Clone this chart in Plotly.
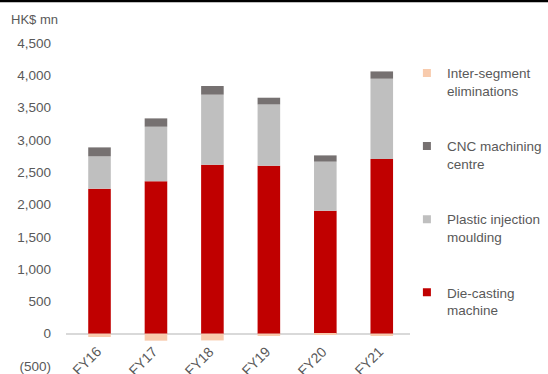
import plotly.graph_objects as go

categories = ["FY16", "FY17", "FY18", "FY19", "FY20", "FY21"]
die_casting = [2245, 2358, 2616, 2601, 1904, 2704]
plastic_injection = [500, 846, 1084, 949, 759, 1243]
cnc_machining = [139, 129, 134, 103, 97, 113]
inter_segment = [-51, -108, -104, -36, -5, -36]

tick_vals = [-500, 0, 500, 1000, 1500, 2000, 2500, 3000, 3500, 4000, 4500]
tick_text = ["(500)", "0", "500", "1,000", "1,500", "2,000", "2,500", "3,000", "3,500", "4,000", "4,500"]

FONT = "Liberation Sans, Arial, sans-serif"
TXT = "#595959"

series = [
    ("Die-casting<br>machine", die_casting, "#C00000"),
    ("Plastic injection<br>moulding", plastic_injection, "#BFBFBF"),
    ("CNC machining<br>centre", cnc_machining, "#767171"),
    ("Inter-segment<br>eliminations", inter_segment, "#F8CBAD"),
]

fig = go.Figure()
for name, vals, col in series:
    fig.add_trace(go.Bar(
        x=categories, y=vals, name=name, marker=dict(color=col, line=dict(width=0)),
        showlegend=False, hoverinfo="skip",
    ))
# legend entries (top to bottom) with small square markers
for i, (name, vals, col) in enumerate(reversed(series)):
    fig.add_trace(go.Scatter(
        x=[None], y=[None], mode="markers", name=name, legendgroup="g%d" % i,
        marker=dict(symbol="square", size=8, color=col),
    ))

for c in categories:
    fig.add_annotation(
        x=c, y=0, xref="x", yref="y", text=c, showarrow=False, textangle=-45,
        xanchor="center", yanchor="middle", xshift=-13, yshift=-27,
        font=dict(family=FONT, size=14, color=TXT),
    )

fig.add_annotation(
    xref="paper", yref="paper", x=(9 - 66) / 344, y=1 + (43.3 - 20) / 322.7,
    text="HK$ mn", showarrow=False, xanchor="left", yanchor="middle",
    font=dict(family=FONT, size=13, color=TXT),
)

# thin black rule along the top edge
fig.add_shape(
    type="rect", xref="paper", yref="paper", layer="above",
    x0=-66 / 344, x1=(548 - 66) / 344,
    y0=1 + (43.3 - 2.7) / 322.7, y1=1 + 43.3 / 322.7,
    line=dict(width=0), fillcolor="black",
)

fig.update_layout(
    width=548, height=374,
    margin=dict(l=66, r=138, t=43, b=8, autoexpand=False),
    paper_bgcolor="white", plot_bgcolor="white",
    barmode="relative", bargap=0.6,
    font=dict(family=FONT, size=14, color=TXT),
    showlegend=True,
    legend=dict(
        x=0.991, xanchor="left", y=1 - (58 - 43.3) / 322.7, yanchor="top",
        traceorder="grouped", tracegroupgap=35, valign="top",
        itemwidth=30, font=dict(family=FONT, size=13.5, color=TXT),
        bgcolor="rgba(0,0,0,0)",
    ),
    xaxis=dict(showticklabels=False, showgrid=False, zeroline=False, showline=False, ticks=""),
    yaxis=dict(
        range=[-500, 4500], tickvals=tick_vals, ticktext=tick_text,
        showgrid=False, zeroline=True, zerolinecolor="#D9D9D9", zerolinewidth=1.5,
        showline=False, ticks="", ticklabelstandoff=14,
        tickfont=dict(family=FONT, size=13.5, color=TXT),
    ),
)

fig.write_html(
    "out.html",
    config={"displayModeBar": False},
    post_script="document.body.style.margin='0px';document.body.style.overflow='hidden';",
)
